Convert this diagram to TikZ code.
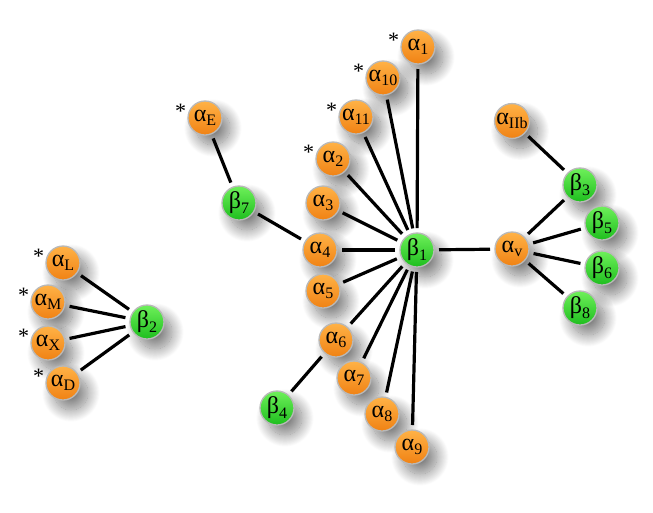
\documentclass[tikz,border=0pt]{standalone}
\usepackage{fontspec}
\setmainfont{Liberation Serif}
\usetikzlibrary{shadows.blur}
\definecolor{orA}{RGB}{255,178,70}
\definecolor{orB}{RGB}{240,130,20}
\definecolor{grA}{RGB}{110,240,90}
\definecolor{grB}{RGB}{30,190,30}
\newcommand{\sbs}[1]{\raisebox{-0.4ex}{\fontsize{16}{16}\selectfont #1}}
\tikzset{
  ball/.style={circle, minimum size=34pt, inner sep=0pt, outer sep=0pt,
    draw=gray!55, line width=1.3pt, font=\fontsize{24}{24}\selectfont,
    blur shadow={shadow xshift=8pt, shadow yshift=-10pt, shadow blur radius=12pt,
      shadow opacity=50, shadow blur steps=24}},
  anode/.style={ball, top color=orA, bottom color=orB},
  bnode/.style={ball, top color=grA, bottom color=grB},
  starred/.style={label={[font=\fontsize{22}{22}\selectfont, inner sep=0pt, xshift=-2pt, yshift=-4pt]168:*}},
  link/.style={line width=3.2pt, shorten <=5pt, shorten >=5pt},
}
\begin{document}
\begin{tikzpicture}[x=1pt,y=-1pt]
\useasboundingbox (0,0) rectangle (653,512);
% nodes
\node[bnode] (b1) at (417,250) {β\sbs{1}};
\node[anode,starred] (a1) at (418,47) {α\sbs{1}};
\node[anode,starred] (a10) at (383,78) {α\sbs{10}};
\node[anode,starred] (a11) at (356,117) {α\sbs{11}};
\node[anode,starred] (a2) at (333,159) {α\sbs{2}};
\node[anode] (a3) at (323,203) {α\sbs{3}};
\node[anode] (a4) at (320,250) {α\sbs{4}};
\node[anode] (a5) at (323,291) {α\sbs{5}};
\node[anode] (a6) at (336,340) {α\sbs{6}};
\node[anode] (a7) at (354,378) {α\sbs{7}};
\node[anode] (a8) at (382,414) {α\sbs{8}};
\node[anode] (a9) at (412,447) {α\sbs{9}};
\node[anode] (av) at (512,249) {α\sbs{v}};
\node[anode] (aIIb) at (512,121) {α\sbs{IIb}};
\node[bnode] (b3) at (580,185) {β\sbs{3}};
\node[bnode] (b5) at (602,223) {β\sbs{5}};
\node[bnode] (b6) at (602,268) {β\sbs{6}};
\node[bnode] (b8) at (580,308) {β\sbs{8}};
\node[bnode] (b7) at (239,203) {β\sbs{7}};
\node[anode,starred] (aE) at (205,118) {α\sbs{E}};
\node[bnode] (b4) at (277,408) {β\sbs{4}};
\node[bnode] (b2) at (147,322) {β\sbs{2}};
\node[anode,starred] (aL) at (63,263) {α\sbs{L}};
\node[anode,starred] (aM) at (48,302) {α\sbs{M}};
\node[anode,starred] (aX) at (48,343) {α\sbs{X}};
\node[anode,starred] (aD) at (63,383) {α\sbs{D}};
% links
\foreach \t in {a1,a10,a11,a2,a3,a4,a5,a6,a7,a8,a9,av}
  \draw[link] (b1) -- (\t);
\foreach \t in {b3,b5,b6,b8}
  \draw[link] (av) -- (\t);
\draw[link] (b3) -- (aIIb);
\draw[link] (a4) -- (b7);
\draw[link] (b7) -- (aE);
\draw[link] (a6) -- (b4);
\foreach \t in {aL,aM,aX,aD}
  \draw[link] (b2) -- (\t);
\end{tikzpicture}
\end{document}
